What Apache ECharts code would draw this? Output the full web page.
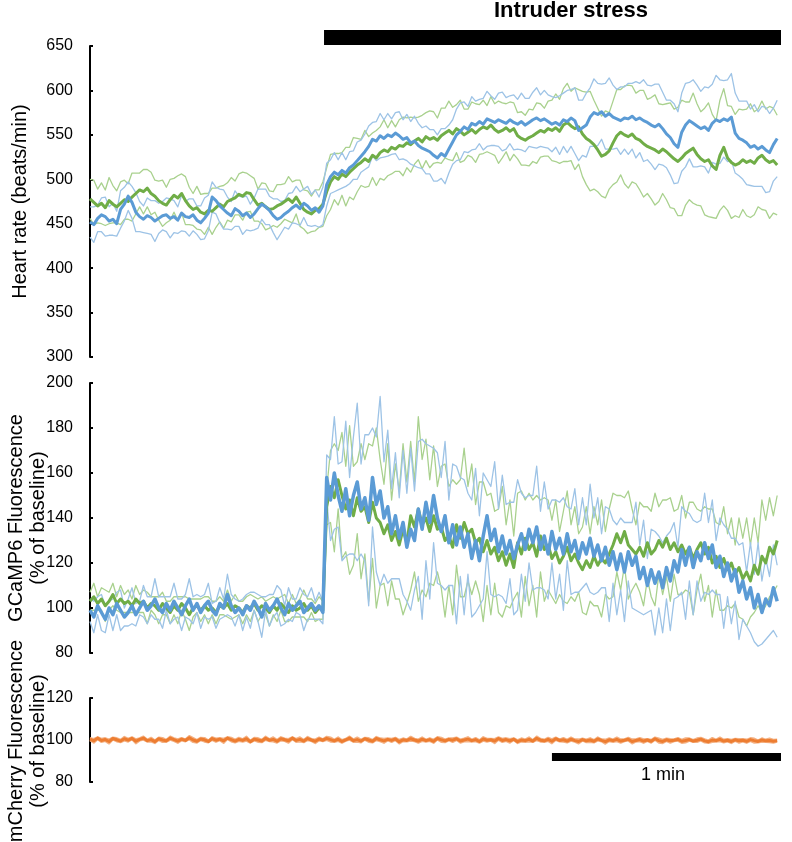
<!DOCTYPE html>
<html>
<head>
<meta charset="utf-8">
<script src="https://cdn.jsdelivr.net/npm/echarts@6/dist/echarts.min.js"></script>
<style>
  html, body { margin: 0; padding: 0; background: #fff; }
  #chart { width: 792px; height: 842px; }
</style>
</head>
<body>
<div id="chart"></div>
<script>
// one sample per second, t = 0..180 s
const dt = 1;
const stressStart = 61.3;
const stressEnd = 181;
const scaleBar = [121, 181]; // 1 min
const scaleBarY = 91.9;

// heart rate (beats/min), mean and sem per group
const hrGreen = [
  478,474,470,473,468,476,472,469,473,477, 475,480,484,488,486,490,484,481,476,473,
  471,477,482,479,484,476,470,466,468,463, 461,465,464,468,472,469,475,477,479,483,
  481,485,484,477,471,473,469,466,467,470, 472,475,478,474,480,473,466,463,461,465, 467,472,
  486,497,503,500,506,503,508,512,516,519, 523,520,527,524,530,533,531,536,534,538,
  537,541,539,543,546,542,548,545,547,544, 549,552,555,551,557,554,550,553,556,552,
  556,559,557,561,556,553,555,558,554,557, 549,546,544,547,549,552,555,553,557,
  555,558,554,561,564,560,557,559,551,546, 543,539,533,526,528,532,541,549,553,550,
  548,551,546,544,540,537,535,533,530,534, 531,527,523,520,524,529,532,535,528,523,
  520,522,515,511,527,536,524,519,516,518, 522,519,521,518,524,527,522,519,521,516
];
const hrGreenSem = [
  22,25,19,23,20,26,21,18,24,22, 20,27,23,19,25,21,24,18,22,26, 20,23,19,25,22,27,21,18,24,20,
  23,19,26,22,20,24,21,25,19,23, 27,22,20,24,18,23,26,21,19,24, 22,20,25,23,19,26,22,24,20,23, 21,25,
  27,31,26,29,24,33,28,35,30,26, 32,28,25,31,29,34,27,30,25,29, 33,28,31,26,24,30,27,32,29,25,
  31,28,33,30,27,35,29,26,31,33, 28,30,26,32,29,35,31,27,33,29, 26,30,28,32,29,34,30,27,31,
  34,38,36,41,44,39,46,42,48,52, 56,50,47,45,49,43,47,52,48,55, 58,54,51,56,60,53,57,62,55,50,
  54,59,56,61,65,58,55,62,57,53, 60,64,58,55,62,66,59,63,57,61, 56,60,64,58,55,61,57,63,59,56
];
const hrBlue = [
  452,449,456,460,458,453,455,450,466,472, 481,474,463,458,455,459,457,453,456,459,
  460,456,458,454,462,458,457,460,454,451, 456,462,480,476,470,466,462,459,467,464,
  459,462,457,461,467,472,469,465,459,455, 457,461,464,468,471,467,473,470,465,468, 463,470,
  494,503,508,505,510,507,513,516,521,526, 531,537,545,543,549,546,550,548,552,549,
  545,547,541,543,538,535,533,531,527,524, 529,526,534,542,550,554,559,556,563,561,
  565,562,568,566,564,567,565,563,567,564, 562,565,561,564,567,569,566,568,565,
  562,564,561,567,565,569,566,555,558,561, 570,575,573,576,571,574,570,568,566,569,
  568,571,567,569,566,564,561,559,562,557, 551,547,540,536,553,561,566,563,560,557,
  559,555,563,567,565,568,566,570,552,546, 544,541,536,538,534,537,533,530,539,546
];
const hrBlueSem = [
  17,20,15,19,22,16,18,14,21,19, 16,18,22,17,15,20,19,23,17,16, 19,22,18,15,20,17,21,18,16,19,
  23,20,17,15,19,22,18,16,20,17, 21,19,15,18,22,17,20,16,19,23, 18,15,20,17,21,19,16,22,18,20, 17,21,
  24,19,22,17,20,15,18,16,21,18, 20,23,19,22,25,21,24,20,23,27, 22,26,24,28,25,23,27,25,29,26,
  28,31,27,25,29,32,28,26,30,27, 25,29,31,28,26,30,33,29,27,31, 28,32,30,27,31,34,29,32,30,
  31,28,33,30,35,32,37,34,31,36, 33,38,35,31,37,40,36,33,38,35, 40,37,43,39,46,42,44,48,45,41,
  38,42,45,40,44,47,43,49,46,42, 45,48,44,50,47,43,46,49,45,42, 44,47,43,46,42,45,48,44,41,43
];

// GCaMP6 fluorescence (% of baseline)
const gcGreen = [
  103,105,102,104,101,103,106,102,104,102, 103,101,104,102,103,100,102,101,99,102,
  100,98,101,99,102,100,97,100,101,99, 101,99,100,98,101,100,102,99,101,100,
  98,101,100,102,99,101,100,98,101,99, 102,100,98,101,99,100,102,99,101,98, 100,99,
  145,154,149,157,150,144,148,141,149,143, 145,138,147,140,138,133,137,130,134,128,
  135,129,141,136,144,137,140,134,141,135, 136,130,132,127,137,131,138,133,135,129,
  131,125,130,124,127,121,125,119,124,118, 129,124,131,126,129,123,132,126,128,
  122,125,120,123,127,121,124,120,117,121, 118,123,119,122,120,124,128,133,129,134,
  128,126,124,127,123,129,124,126,130,127, 131,126,129,125,128,124,127,122,126,129,
  124,127,120,123,118,122,117,120,115,118, 113,116,112,119,115,123,120,127,124,130
];
const gcGreenSem = [
  4,6,3,5,7,4,5,3,6,4, 5,3,6,4,5,7,3,4,6,5, 3,5,4,6,3,5,7,4,3,5,
  4,6,3,5,4,3,6,4,5,3, 5,4,6,3,5,4,3,6,4,5, 3,6,4,5,3,4,6,5,3,4, 5,4,
  8,16,24,13,28,19,33,22,16,30, 21,35,25,40,28,22,36,18,30,24, 38,27,33,20,41,29,35,23,31,19,
  27,34,22,30,18,26,33,21,29,17, 25,31,20,27,16,23,29,18,24,14, 22,28,17,25,19,27,16,23,20,
  17,23,14,20,25,16,21,13,19,24, 15,22,18,26,14,20,23,17,21,15, 24,18,13,20,22,16,19,25,15,21,
  17,23,14,19,22,16,20,25,18,14, 21,17,24,15,19,23,16,20,13,22, 18,24,16,21,14,25,19,22,17,20
];
const gcBlue = [
  99,96,101,98,95,100,97,102,99,96, 98,101,97,100,103,99,101,104,100,98,
  102,99,103,100,97,101,104,99,102,98, 101,103,99,97,102,100,106,101,98,100,
  97,101,99,103,100,96,102,99,101,104, 100,97,102,99,101,103,98,100,102,99, 101,98,
  158,148,160,150,143,153,141,150,156,144, 149,139,158,146,152,140,145,133,141,131,
  138,127,135,130,144,135,147,138,150,140, 134,141,129,137,128,136,127,133,122,130,
  121,132,141,130,135,125,132,124,130,122, 128,133,126,135,129,136,126,132,124,
  134,126,131,124,133,125,130,122,129,124, 131,123,128,121,127,119,125,117,124,116,
  125,119,123,113,118,110,117,111,116,109, 118,112,121,116,126,119,127,118,125,121,
  129,122,128,118,123,114,120,112,117,107, 112,104,109,100,106,98,104,101,109,103
];
const gcBlueSem = [
  5,7,4,8,6,3,7,5,9,4, 6,8,5,3,7,6,4,9,5,7, 3,6,8,4,7,5,9,6,4,7,
  5,8,3,6,7,4,9,5,6,3, 7,5,8,4,6,9,3,7,5,6, 8,4,7,5,3,6,8,5,7,4, 6,5,
  10,18,25,14,22,30,17,26,35,20, 28,38,22,30,42,25,34,20,28,18, 32,24,36,22,30,40,26,34,21,29,
  24,33,19,27,35,22,30,18,26,32, 20,28,16,24,30,19,27,22,17,25, 29,18,23,15,21,27,17,24,20,
  14,22,16,25,12,19,23,15,20,13, 24,17,21,12,18,25,14,20,16,22, 13,19,24,15,21,12,18,23,16,20,
  14,22,17,11,19,24,15,21,13,18, 22,16,20,12,17,23,15,19,14,21, 17,12,20,15,23,14,18,13,19,16
];

// mCherry fluorescence (% of baseline)
const mchMean = [
  100.4,99.6,100.9,99.8,100.2,99.3,100.7,100.1,99.5,100.6, 99.9,100.8,99.4,100.3,100.9,99.7,100.2,99.2,100.6,100.0,
  99.6,100.9,100.2,99.5,100.4,99.8,101.1,100.0,99.4,100.5, 100.1,99.3,100.7,99.9,100.4,99.6,100.9,100.2,99.5,100.3,
  99.8,100.6,99.2,100.4,100.0,99.5,100.8,99.9,100.3,99.4, 100.6,100.1,99.6,100.9,99.8,100.3,99.5,100.7,100.0,99.4,
  100.5,99.9,100.8,100.2,99.6,100.4,99.3,100.1,100.9,99.7, 100.2,99.5,100.6,100.0,99.4,100.7,100.1,99.6,100.3,99.8,
  100.5,99.2,100.1,99.8,100.6,100.0,99.5,100.4,99.7,100.2, 99.4,100.8,100.1,99.6,100.3,99.9,100.6,99.5,100.0,100.4,
  99.7,100.2,99.3,100.5,99.9,100.1,99.5,100.7,99.8,100.2, 99.6,100.4,99.2,100.0,99.7,100.3,99.5,100.8,99.9,99.6,
  100.3,99.4,100.6,99.8,100.1,99.5,100.4,99.7,99.3,100.2, 99.6,100.0,99.4,100.5,99.8,99.2,100.1,99.7,100.3,99.5,
  99.9,100.4,99.3,99.8,100.2,99.5,100.0,99.4,100.6,99.7, 99.3,100.1,99.6,99.9,100.3,99.4,99.8,100.2,99.5,99.9,
  100.4,99.6,99.2,100.0,99.7,100.3,99.5,99.9,99.3,100.1, 99.6,99.9,99.4,100.2,99.7,99.3,100.0,99.6,99.8,99.4,
  99.7
];
const mchSem = [
  0.6,0.9,0.5,0.8,0.7,1.0,0.5,0.8,0.6,0.9, 0.7,0.5,1.0,0.6,0.8,0.5,0.9,0.7,0.6,1.0,
  0.5,0.8,0.7,0.9,0.6,0.5,0.8,1.0,0.7,0.6, 0.9,0.5,0.7,0.8,0.6,1.0,0.5,0.9,0.7,0.8,
  0.6,1.0,0.5,0.7,0.9,0.6,0.8,0.5,1.0,0.7, 0.8,0.6,0.9,0.5,0.7,1.0,0.6,0.8,0.5,0.9,
  0.7,0.5,0.8,1.0,0.6,0.9,0.7,0.5,0.8,0.6, 1.0,0.7,0.5,0.9,0.6,0.8,0.7,1.0,0.5,0.8,
  0.6,0.9,0.7,0.5,1.0,0.6,0.8,0.9,0.5,0.7, 0.8,0.6,1.0,0.7,0.5,0.9,0.6,0.8,0.7,1.0,
  0.5,0.8,0.6,0.9,0.7,0.5,1.0,0.6,0.8,0.7, 0.9,0.5,0.7,0.8,0.6,1.0,0.5,0.9,0.7,0.6,
  0.8,1.0,0.6,0.5,0.9,0.7,0.8,0.6,1.0,0.5, 0.7,0.9,0.6,0.8,0.5,1.0,0.7,0.6,0.9,0.8,
  0.5,0.7,1.0,0.6,0.8,0.9,0.5,0.7,0.6,1.0, 0.8,0.6,0.9,0.5,0.7,0.8,1.0,0.6,0.5,0.9,
  0.7,0.8,0.6,1.0,0.5,0.9,0.7,0.6,0.8,0.5, 0.9,0.6,0.8,0.7,1.0,0.5,0.8,0.6,0.9,0.7,
  0.6
];

const font = 'Liberation Sans, Arial, sans-serif';
const green = '#70AD47', greenLight = '#A9D18E';
const blue = '#5B9BD5', blueLight = '#9DC3E6';
const orange = '#ED7D31', orangeLight = '#F4B183';

const pts = arr => arr.map((v, i) => [i * dt, v]);
const band = (m, s, sign) => m.map((v, i) => [i * dt, v + sign * (s[i] || 0)]);

function trace(idx, data, color, width) {
  return {
    type: 'line', xAxisIndex: idx, yAxisIndex: idx, data: data,
    showSymbol: false, silent: true, smooth: false,
    lineStyle: { color: color, width: width, join: 'round' }
  };
}

const left = 90, right = 11;
const grids = [
  { top: 30, height: 15 },
  { top: 46, height: 311 },
  { top: 383, height: 270 },
  { top: 698, height: 84 }
].map(g => Object.assign({ left: left, right: right, containLabel: false, outerBoundsMode: 'none' }, g));

const xAxes = grids.map((g, i) => ({
  type: 'value', gridIndex: i, min: 0, max: 181, show: false
}));

function yAx(i, min, max, interval, name) {
  return {
    type: 'value', gridIndex: i, min: min, max: max, interval: interval,
    splitLine: { show: false },
    axisLine: { show: true, lineStyle: { color: '#000', width: 2 } },
    axisTick: { show: true, inside: true, length: 3, lineStyle: { color: '#000', width: 2 } },
    axisLabel: { color: '#000', fontSize: 16, fontFamily: font, margin: 17 },
    name: name, nameLocation: 'middle', nameGap: 60,
    nameTextStyle: { color: '#000', fontSize: 20, fontFamily: font }
  };
}

const yAxes = [
  { type: 'value', gridIndex: 0, min: 0, max: 1, show: false },
  yAx(1, 300, 650, 50, 'Heart rate (beats/min)'),
  yAx(2, 80, 200, 20, ''),
  yAx(3, 80, 120, 20, '')
];

const series = [
  // stress period bar
  trace(0, [[stressStart, 0.5], [stressEnd, 0.5]], '#000', 15),
  // heart rate
  trace(1, band(hrGreen, hrGreenSem, 1), greenLight, 1.3),
  trace(1, band(hrGreen, hrGreenSem, -1), greenLight, 1.3),
  trace(1, band(hrBlue, hrBlueSem, 1), blueLight, 1.3),
  trace(1, band(hrBlue, hrBlueSem, -1), blueLight, 1.3),
  trace(1, pts(hrGreen), green, 3),
  trace(1, pts(hrBlue), blue, 3),
  // GCaMP6
  trace(2, band(gcGreen, gcGreenSem, 1), greenLight, 1.3),
  trace(2, band(gcGreen, gcGreenSem, -1), greenLight, 1.3),
  trace(2, band(gcBlue, gcBlueSem, 1), blueLight, 1.3),
  trace(2, band(gcBlue, gcBlueSem, -1), blueLight, 1.3),
  trace(2, pts(gcGreen), green, 3),
  trace(2, pts(gcBlue), blue, 3.5),
  // mCherry
  trace(3, band(mchMean, mchSem, 1), orangeLight, 2),
  trace(3, band(mchMean, mchSem, -1), orangeLight, 2),
  trace(3, pts(mchMean), orange, 3),
  // 1 min scale bar
  trace(3, [[scaleBar[0], scaleBarY], [scaleBar[1], scaleBarY]], '#000', 8)
];

// rotated two-line axis titles
function vText(text, x, y) {
  return {
    type: 'text', x: x, y: y, rotation: Math.PI / 2,
    style: { text: text, font: '20px ' + font, fill: '#000', align: 'center', verticalAlign: 'middle' }
  };
}

const chart = echarts.init(document.getElementById('chart'), null, { renderer: 'canvas' });
chart.setOption({
  animation: false,
  backgroundColor: '#fff',
  grid: grids,
  xAxis: xAxes,
  yAxis: yAxes,
  series: series,
  graphic: [
    {
      type: 'text', left: 494, top: 0,
      style: { text: 'Intruder stress', font: 'bold 22px ' + font, fill: '#000' }
    },
    {
      type: 'text', left: 641, top: 766,
      style: { text: '1 min', font: '18px ' + font, fill: '#000' }
    },
    vText('GCaMP6 Fluorescence', 16, 518),
    vText('(% of baseline)', 38, 518),
    vText('mCherry Fluorescence', 16, 741),
    vText('(% of baseline)', 38, 741)
  ]
});
</script>
</body>
</html>
